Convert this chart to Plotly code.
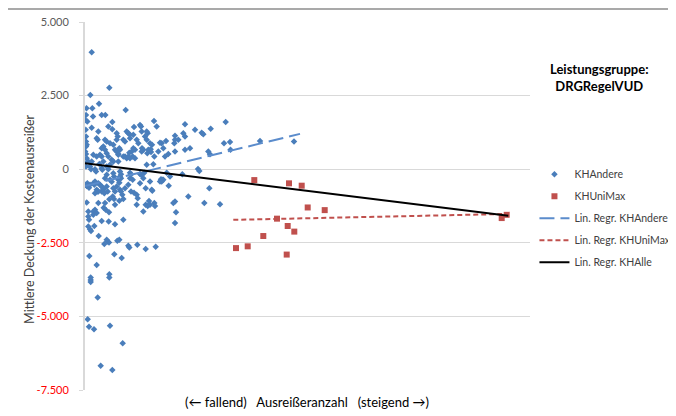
import plotly.graph_objects as go

# ---------------- data ----------------
# x: position along the (unlabelled) outlier-count axis, arbitrary units 0..445
andere_x = [6.7, 24.3, 5.3, 14, 1.5, 7.3, 1, 8, 16.7, 20.3, 40.7, 0.3, 2.3, 27.3, 69, 100, 6.7, 23.3, 27.3, 49,
            55, 56, 140.7, 125.7, 116.7, 118.3, 175, 145, 145.5, 90, 90, 89.3, 62.7, 61.7, 65, 67, 31.7, 32.7, 75, 76.7,
            81, 11.7, 12.7, 41.7, 45, 18.3, 20, 25, 28.3, 34.3, 35, 1, 1, 1, 0.7, 33.3, 38.3, 40, 44.3, 46.7,
            47.7, 57, 58.3, 62.3, 65.7, 66, 69.3, 78.3, 83.3, 90, 100, 105, 68.3, 59.3, 113, 114.3, 97.3, 81.7, 85, 76,
            77.3, 83.7, 123.3, 125, 11.7, 0.2, 1, 1.7, 0.2, 1, 5, 6, 10, 11, 14.3, 16.7, 17.3, 21.7, 23.3, 25,
            26.7, 28.3, 28.3, 29, 35, 36, 36, 45, 45.7, 47.7, 55, 56.3, 2.3, 1.7, 4, 5, 8.3, 9.3, 11.7, 12.7,
            16.7, 16.7, 18.3, 19.3, 21.7, 22.7, 25, 26.7, 33.3, 34.3, 35, 27.7, 29, 36, 37.3, 40, 43.3, 49, 51.7, 52.7,
            60.7, 75, 76.7, 90, 88.3, 60.7, 62.7, 69.3, 70, 38.3, 34.3, 1.7, 13.3, 119.3, 135, 103.3, 24.3, 30, 8.3, 8.3,
            3.3, 3.3, 4, 10, 11.7, 18.7, 20.7, 24, 16.7, 23.7, 30, 38.3, 3.3, 5, 6, 9.3, 13.7, 21.7, 22.7, 24,
            19.3, 32.3, 34.3, 29.3, 36.7, 43.3, 44.3, 52.3, 60.7, 70.7, 58.3, 64, 67.3, 46, 91, 90, 124.3, 4.3, 11.7, 5.7,
            5.7, 5.7, 24.3, 24.3, 12.7, 2.7, 4, 9, 25, 37.7, 15.7, 27.3, 13.3, 20, 21.7, 1.7, 16.7, 31.7, 38.3, 40,
            43.3, 45, 48.3, 51.7, 53.3, 56.7, 60, 61.7, 71.7, 93.3, 98.3, 100, 110, 15, 16.7, 8.3, 21.7, 23.3, 41.7, 43.3,
            45, 50, 56.7, 63.3, 73.3, 80, 48.3, 50, 30, 31.7, 33.3, 3.3, 6.7, 18.3, 33.3, 61.7, 0.2, 10, 13.3, 15,
            20, 21.7, 18.3, 28.3, 30, 31.7, 35, 10, 13.3, 45, 55, 58.3, 65, 78.3, 66.7, 20, 51.7, 65, 139, 209]
andere_y = [3970, 2770, 2520, 2220, 2070, 2070, 1840, 1790, 1840, 1840, 2010, 1670, 1620, 1600, 1640, 1530, 1410, 1450, 1360, 1430,
            1500, 1450, 1600, 1370, 1240, 1190, 960, 920, 660, 1000, 1140, 880, 1220, 1000, 880, 830, 1220, 1110, 900, 880,
            960, 1050, 1000, 1280, 1170, 770, 660, 880, 830, 710, 660, 1110, 940, 770, 1340, 520, 430, 430, 560, 600,
            430, 710, 660, 540, 680, 580, 430, 710, 520, 600, 660, 710, 170, -120, 10, -60, -170, -120, -250, -340,
            -360, -560, 600, 510, 430, 600, 520, 370, 200, 90, 90, 0, 0, -80, 180, 30, -20, 90, 0, 150,
            320, 260, -140, -250, -80, -170, -310, -120, -190, -360, -160, -200, -480, -570, -630, -530, -480, -530, -700, -760,
            -590, -760, -700, -820, -590, -760, -360, -430, -360, -460, -700, -930, -1010, -760, -870, -650, -530, -800, -870, -990,
            -650, -420, -420, -1100, -1150, -1210, -1250, -1150, -1250, -1010, -1070, -1130, -1150, -1150, -1190, -930, -1020, -1210, -1440, -1550,
            -1440, -1610, -1720, -1380, -1490, -1310, -1380, -1460, -1760, -1780, -1870, -1720, -1950, -2040, -2100, -1930, -2270, -2400, -2460, -2490,
            -2540, -2430, -2400, -2890, -3020, -2600, -2660, -2570, -2710, -2630, -1440, -1080, -730, -760, -1460, -1830, -650, -2950, -3250, -3680,
            -3760, -3830, -3570, -3680, -4360, -5100, -5350, -5440, -5320, -5910, -6680, -6820, 1280, 1000, 940, 830, 710, 1000, 1000, 940,
            1220, 1050, 1170, 1000, 880, 1280, 1110, 1280, 1450, 1000, 1220, 1110, 1340, 490, 430, 490, 540, 430, 370, 430,
            370, 370, 600, 660, 600, 430, 710, 660, 660, 600, 490, 260, 260, 260, 260, 150, -530, -420, -480, -530,
            -310, -190, -650, -650, -760, -590, -250, -820, -760, -310, -480, -310, -420, -360, -700, -1150, -1210, -1210, 880, 940]

unimax_x = [169.3, 204, 216.7, 222.7, 239.7, 192, 202.7, 209.3, 178.3, 151, 162.7, 201.7, 416.7, 421.7]
unimax_y = [-370, -480, -560, -1300, -1390, -1680, -1930, -2120, -2270, -2680, -2620, -2900, -1660, -1550]

# regression lines (end points)
reg_andere_x = [0, 215]
reg_andere_y = [-570, 1200]
reg_unimax_x = [148.3, 423.3]
reg_unimax_y = [-1720, -1520]
reg_alle_x = [0, 423.3]
reg_alle_y = [200, -1580]

y_tickvals = [5000, 2500, 0, -2500, -5000, -7500]
y_ticktext = ["5.000", "2.500", "0", "-2.500", "-5.000", "-7.500"]

title_lines = ["Leistungsgruppe:", "DRGRegelVUD"]
x_title = "(← fallend)   Ausreißeranzahl   (steigend →)"
y_title = "Mittlere Deckung der Kostenausreißer"

# ---------------- figure ----------------
FONT = "Lato, 'Liberation Sans', sans-serif"
BLUE = "#4a7ebb"
RED = "#c0504d"

fig = go.Figure()
fig.add_trace(go.Scatter(x=andere_x, y=andere_y, mode="markers", name="KHAndere", legendgroup="a",
                         marker=dict(symbol="diamond", size=5, color=BLUE, line=dict(width=0))))
fig.add_trace(go.Scatter(x=unimax_x, y=unimax_y, mode="markers", name="KHUniMax", legendgroup="b",
                         marker=dict(symbol="square", size=6, color=RED, line=dict(width=0))))
fig.add_trace(go.Scatter(x=reg_andere_x, y=reg_andere_y, mode="lines", name="Lin. Regr. KHAndere", legendgroup="c",
                         line=dict(color="#5b8ccc", width=2, dash="15px,6px")))
fig.add_trace(go.Scatter(x=reg_unimax_x, y=reg_unimax_y, mode="lines", name="Lin. Regr. KHUniMax", legendgroup="d",
                         line=dict(color=RED, width=2, dash="5px,3px")))
fig.add_trace(go.Scatter(x=reg_alle_x, y=reg_alle_y, mode="lines", name="Lin. Regr. KHAlle", legendgroup="e",
                         line=dict(color="#000000", width=2)))

ticktext_colored = [t if not t.startswith("-") else f'<span style="color:#ff0000">{t}</span>' for t in y_ticktext]

# the page body adds an 8px offset, so the figure is 8px smaller than the window
fig.update_layout(
    width=668, height=408,
    margin=dict(l=77, r=146, t=14, b=26, autoexpand=False),
    paper_bgcolor="white", plot_bgcolor="white",
    font=dict(family=FONT, size=11, color="#595959"),
    showlegend=True,
    legend=dict(x=1.01, xanchor="left", y=0.626, yanchor="top",
                font=dict(size=10.5, color="#404040"), bgcolor="rgba(0,0,0,0)",
                itemwidth=30, tracegroupgap=3),
    xaxis=dict(range=[0, 445], showticklabels=False, showgrid=False, zeroline=False,
               showline=False, ticks=""),
    yaxis=dict(range=[-7500, 5000], tickvals=y_tickvals, ticktext=ticktext_colored,
               showgrid=True, gridcolor="#d9d9d9", gridwidth=1, zeroline=False,
               showline=True, linecolor="#d9d9d9", linewidth=2,
               ticks="outside", ticklen=4, tickcolor="#d9d9d9",
               ticklabelstandoff=8, tickfont=dict(size=11, color="#595959")),
    annotations=[
        dict(text="<b>" + "<br>".join(title_lines) + "</b>", xref="paper", yref="paper",
             x=1.157, y=0.848, xanchor="center", yanchor="middle", showarrow=False,
             font=dict(size=13, color="#000000")),
        dict(text=x_title, xref="paper", yref="paper", x=0.499, y=-0.0326,
             xanchor="center", yanchor="middle", showarrow=False,
             font=dict(size=13, color="#000000")),
        dict(text=y_title, xref="paper", yref="paper", x=-0.1236, y=0.465, textangle=-90,
             xanchor="center", yanchor="middle", showarrow=False,
             font=dict(size=12.5, color="#404040")),
    ],
    shapes=[
        dict(type="line", xref="paper", yref="paper", x0=-0.176, x1=1.35, y0=1.035, y1=1.035,
             line=dict(color="#8c8c8c", width=1.5)),
        dict(type="line", xref="paper", yref="paper", x0=-0.176, x1=-0.176, y0=1.035, y1=-0.1,
             line=dict(color="#8c8c8c", width=1.5)),
    ],
)

fig.write_html("out.html")
